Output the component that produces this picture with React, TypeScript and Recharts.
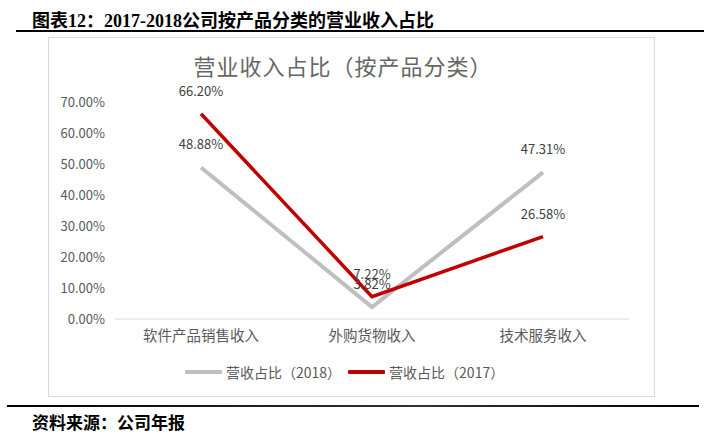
import React from 'react';
import { LineChart, Line, XAxis, YAxis, LabelList } from 'recharts';

const categories = ['软件产品销售收入', '外购货物收入', '技术服务收入'];
const share2018 = [48.88, 3.82, 47.31];
const share2017 = [66.2, 7.22, 26.58];
const yTicks = [0, 10, 20, 30, 40, 50, 60, 70];
const seriesNames = ['营收占比（2018）', '营收占比（2017）'];
const seriesColors = ['#BFBFBF', '#C00000'];

const data = categories.map((c, i) => ({ name: c, s2018: share2018[i], s2017: share2017[i] }));

const CJK = '"Noto Sans CJK SC", "Noto Sans", sans-serif';
const pct = (v: number) => `${Number(v).toFixed(2)}%`;

const LegendContent = () => (
  <div style={{ display: 'flex', alignItems: 'center', fontFamily: CJK, fontSize: 14, color: '#595959', whiteSpace: 'nowrap' }}>
    <div style={{ width: 37, height: 4, background: seriesColors[0], marginRight: 4, borderRadius: 1 }} />
    <span style={{ marginRight: 7 }}>{seriesNames[0]}</span>
    <div style={{ width: 37, height: 4, background: seriesColors[1], marginRight: 4, borderRadius: 1 }} />
    <span>{seriesNames[1]}</span>
  </div>
);

export default function App() {
  return (
    <div style={{ position: 'absolute', left: 0, top: 0, width: 708, height: 441, background: '#fff', overflow: 'hidden' }}>
      <div style={{ position: 'absolute', left: 32, top: 6, fontSize: 18, fontWeight: 'bold', fontFamily: '"Liberation Serif", "Noto Sans CJK SC", serif', color: '#000', whiteSpace: 'nowrap' }}>
        图表12：2017-2018公司按产品分类的营业收入占比
      </div>
      <div style={{ position: 'absolute', left: 16, top: 30, width: 688, height: 2, background: '#000' }} />
      <div style={{ position: 'absolute', left: 48, top: 37, width: 607, height: 360, border: '1px solid #D9D9D9', boxSizing: 'border-box' }} />
      <div style={{ position: 'absolute', left: 143, top: 49, width: 400, textAlign: 'center', fontSize: 22, letterSpacing: 1, fontFamily: CJK, color: '#666', whiteSpace: 'nowrap' }}>
        营业收入占比（按产品分类）
      </div>
      <div style={{ position: 'absolute', left: 48, top: 37 }}>
        <LineChart width={607} height={360} data={data} margin={{ top: 65, right: 26, left: 0, bottom: 48 }}>
          <XAxis
            dataKey="name"
            height={30}
            padding={{ left: 86, right: 86 }}
            axisLine={{ stroke: '#D9D9D9', strokeWidth: 1 }}
            tickLine={false}
            tickMargin={6}
            tick={{ fill: '#595959', fontSize: 14.5, fontFamily: CJK }}
            interval={0}
          />
          <YAxis
            width={67}
            domain={[0, 70]}
            ticks={yTicks}
            axisLine={false}
            tickLine={false}
            tickMargin={4}
            tickFormatter={pct}
            tick={{ fill: '#595959', fontSize: 13, fontFamily: CJK }}
          />
          <Line dataKey="s2018" name={seriesNames[0]} stroke={seriesColors[0]} strokeWidth={4} dot={false} isAnimationActive={false}>
            <LabelList dataKey="s2018" position="top" offset={18} formatter={pct} style={{ fill: '#404040', fontSize: 13, fontFamily: CJK }} />
          </Line>
          <Line dataKey="s2017" name={seriesNames[1]} stroke={seriesColors[1]} strokeWidth={3.5} dot={false} isAnimationActive={false}>
            <LabelList dataKey="s2017" position="top" offset={18} formatter={pct} style={{ fill: '#404040', fontSize: 13, fontFamily: CJK }} />
          </Line>
        </LineChart>
      </div>
      <div style={{ position: 'absolute', left: 185, top: 362 }}>
        <LegendContent />
      </div>
      <div style={{ position: 'absolute', left: 7, top: 405, width: 692, height: 2, background: 'linear-gradient(to right, #000, #333 60%, #000)' }} />
      <div style={{ position: 'absolute', left: 32, top: 409, fontSize: 17, fontWeight: 'bold', fontFamily: '"Liberation Serif", "Noto Sans CJK SC", serif', color: '#000', whiteSpace: 'nowrap' }}>
        资料来源：公司年报
      </div>
    </div>
  );
}
